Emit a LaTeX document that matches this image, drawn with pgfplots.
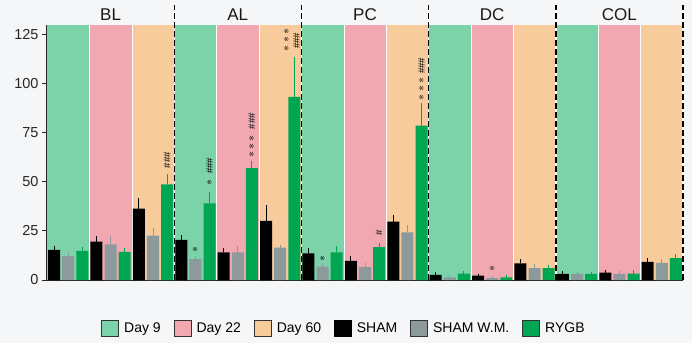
\documentclass[border=0pt]{standalone}
\usepackage{pgfplots}
\pgfplotsset{compat=1.18}
\usepackage{pgfplotstable}
\usepackage{fontspec}
\setmainfont{Liberation Sans}
\definecolor{bgc}{HTML}{F5F6F8}
\definecolor{dnine}{HTML}{7DD3A9}
\definecolor{dtwo}{HTML}{F2A8B1}
\definecolor{dsix}{HTML}{F7CB9C}
\definecolor{wmc}{HTML}{8C9A9C}
\definecolor{ryc}{HTML}{00A651}

% g = day group index (section*3 + day)
\pgfplotstableread{
g sham shame wm wme ry rye
0 15.3 1.4 12.2 1.1 14.8 1.4
1 19.6 2.2 18.2 3.6 14.3 1.3
2 36.4 4.8 22.6 3.3 48.8 4.3
3 20.4 1.7 10.7 0.9 39.1 5.1
4 14.1 1.2 14.1 2.6 57.0 3.0
5 30.1 7.3 16.5 0.8 93.4 19.7
6 13.6 2.0 6.8 0.9 14.1 2.4
7 9.7 1.9 6.6 1.4 16.8 1.4
8 29.8 2.5 24.3 2.9 78.7 10.6
9 2.6 0.5 1.4 0.6 3.2 0.5
10 2.2 0.3 0.9 0.3 1.4 0.3
11 8.5 1.2 6.0 1.3 6.0 0.8
12 3.1 0.8 3.1 0.3 3.1 0.2
13 3.7 0.6 3.1 0.5 3.2 1.1
14 9.2 1.0 8.7 1.0 11.1 1.5
}\data

\begin{document}
\begin{tikzpicture}
\fill[bgc] (0,0) rectangle (692pt,343pt);
\path[use as bounding box] (0,0) rectangle (692pt,343pt);
\begin{axis}[
  at={(47pt,63pt)}, anchor=south west,
  scale only axis, width=636pt, height=255pt,
  xmin=-0.5, xmax=44.5, ymin=0, ymax=130,
  axis x line=bottom, axis y line=left,
  axis line style={-, line width=1.2pt, black!85},
  xtick=\empty,
  ytick={0,25,50,75,100,125},
  tick align=outside, major tick length=5pt,
  tick style={line width=1pt, black!85},
  /pgf/number format/assume math mode=true,
  yticklabel style={font=\fontsize{14.5}{14.5}\selectfont, text=black!85},
  clip=false,
  legend columns=6,
  legend style={at={(rel axis cs:0.467,-0.188)}, anchor=center, draw=none, fill=none,
    font=\fontsize{14}{14}\selectfont,
    /tikz/every odd column/.append style={column sep=3pt},
    /tikz/every even column/.append style={column sep=11pt}},
  legend image code/.code={\draw[#1] (0pt,-8pt) rectangle (17pt,8pt);},
]
% day backgrounds
\pgfplotsinvokeforeach{0,9,18,27,36}{
  \fill[dnine] (axis cs:#1-0.5,0) rectangle (axis cs:#1+2.5,130);
  \fill[dtwo] (axis cs:#1+2.5,0) rectangle (axis cs:#1+5.5,130);
  \fill[dsix] (axis cs:#1+5.5,0) rectangle (axis cs:#1+8.5,130);
  \draw[white, line width=0.6pt] (axis cs:#1+2.5,0) -- (axis cs:#1+2.5,130);
  \draw[white, line width=0.6pt] (axis cs:#1+5.5,0) -- (axis cs:#1+5.5,130);
}
\addlegendimage{fill=dnine, draw=black!80, line width=0.8pt}
\addlegendentry{Day 9}
\addlegendimage{fill=dtwo, draw=black!80, line width=0.8pt}
\addlegendentry{Day 22}
\addlegendimage{fill=dsix, draw=black!80, line width=0.8pt}
\addlegendentry{Day 60}
\addlegendimage{fill=black, draw=black, line width=0.8pt}
\addlegendentry{SHAM}
\addlegendimage{fill=wmc, draw=black!80, line width=0.8pt}
\addlegendentry{SHAM W.M.}
\addlegendimage{fill=ryc, draw=black!80, line width=0.8pt}
\addlegendentry{RYGB}

\addplot[ybar, bar width=0.85, bar shift=0pt, fill=black, draw=none, forget plot,
  error bars/.cd, y dir=plus, y explicit,
  error bar style={line width=1pt, black},
  error mark options={line width=1pt, mark size=1.5pt, black}]
  table[x expr=3*\thisrow{g}, y=sham, y error=shame] {\data};
\addplot[ybar, bar width=0.85, bar shift=0pt, fill=wmc, draw=none, forget plot,
  error bars/.cd, y dir=plus, y explicit,
  error bar style={line width=1pt, wmc},
  error mark options={line width=1pt, mark size=1.5pt, wmc}]
  table[x expr=3*\thisrow{g}+1, y=wm, y error=wme] {\data};
\addplot[ybar, bar width=0.85, bar shift=0pt, fill=ryc, draw=none, forget plot,
  error bars/.cd, y dir=plus, y explicit,
  error bar style={line width=1pt, ryc},
  error mark options={line width=1pt, mark size=1.5pt, ryc}]
  table[x expr=3*\thisrow{g}+2, y=ry, y error=rye] {\data};

% section separators
\pgfplotsinvokeforeach{8.5,17.5,26.5,35.5,44.5}{
  \draw[white, line width=1.4pt] (axis cs:#1,0) -- (axis cs:#1,140.2);
  \draw[black, line width=1.4pt, dash pattern=on 6pt off 3pt] (axis cs:#1,0) -- (axis cs:#1,140.2);
}
% section labels
\node[font=\fontsize{17}{17}\selectfont, text=black!90] at (axis cs:4,135.4) {BL};
\node[font=\fontsize{17}{17}\selectfont, text=black!90] at (axis cs:13,135.4) {AL};
\node[font=\fontsize{17}{17}\selectfont, text=black!90] at (axis cs:22,135.4) {PC};
\node[font=\fontsize{17}{17}\selectfont, text=black!90] at (axis cs:31,135.4) {DC};
\node[font=\fontsize{17}{17}\selectfont, text=black!90] at (axis cs:40,135.4) {COL};
% significance marks
\tikzset{sig/.style={rotate=90, font=\fontsize{9.5}{9.5}\selectfont, inner sep=0pt, text=black},
         st/.style={rotate=90, font=\fontsize{12}{12}\selectfont, inner sep=0pt, text=black}}
\newcommand{\one}{$\ast$}
\newcommand{\three}{$\ast\kern-0.5pt\ast\kern-0.5pt\ast$}
\node[sig] at (axis cs:8,61) {\#\#\#};
\node[st] at (axis cs:10,15.3) {\one};
\node[st] at (axis cs:11,49.5) {\one};
\node[sig] at (axis cs:11,58.2) {\#\#\#};
\node[st] at (axis cs:14,67.9) {\three};
\node[sig] at (axis cs:14,80.9) {\#\#\#};
\node[st] at (axis cs:16.46,122.4) {\three};
\node[sig] at (axis cs:17.17,122) {\#\#\#};
\node[st] at (axis cs:19,11.2) {\one};
\node[sig] at (axis cs:23,24) {\#};
\node[st] at (axis cs:26,97.4) {\three};
\node[sig] at (axis cs:26,109.2) {\#\#\#};
\node[st] at (axis cs:31,6) {\one};
\end{axis}
\end{tikzpicture}
\end{document}
